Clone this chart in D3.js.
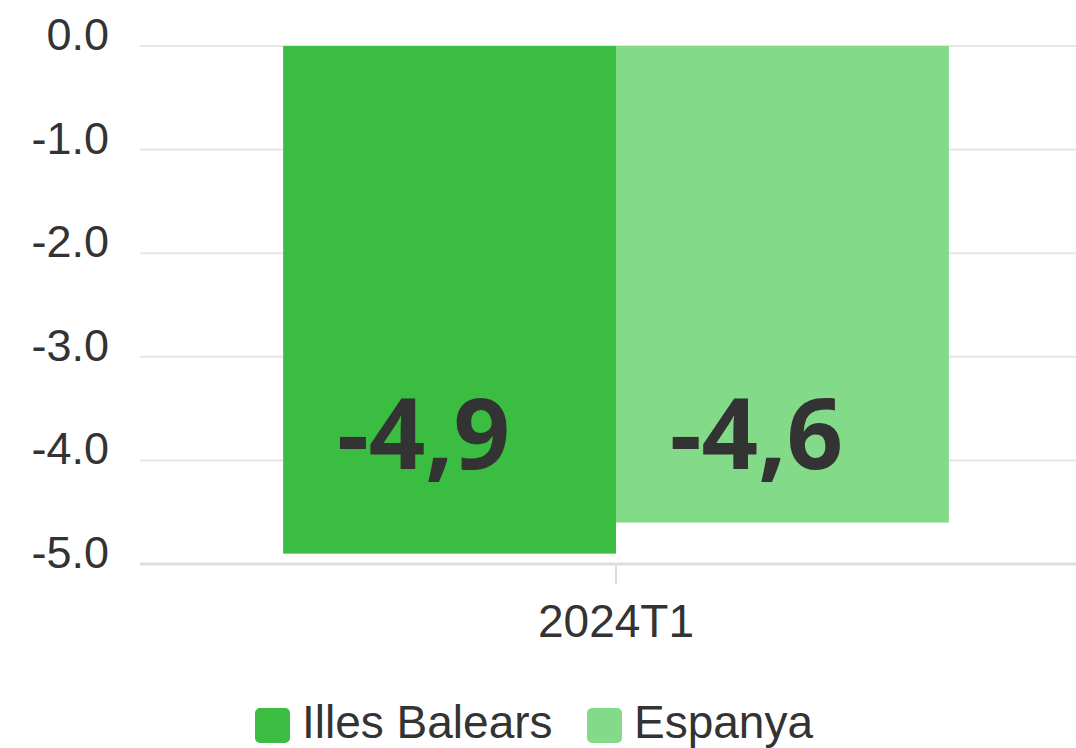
<!DOCTYPE html>
<html>
<head>
<meta charset="utf-8">
<style>
body { margin: 0; background: #fff; }
svg { display: block; }
</style>
</head>
<body>
<div id="chart"></div>
<script src="https://d3js.org/d3.v7.min.js"></script>
<script>
// data
var categories = ["2024T1"];
var seriesNames = ["Illes Balears", "Espanya"];
var seriesValues = [[-4.9], [-4.6]];
var seriesColors = ["#3bbd42", "#83da88"];
var yTicks = [0, -1, -2, -3, -4, -5];

var W = 1076, H = 748;
var svg = d3.select("#chart").append("svg")
    .attr("width", W)
    .attr("height", H);

var plotLeft = 140, plotRight = 1092, plotTop = 46, plotBottom = 564;

var y = d3.scaleLinear().domain([-5, 0]).range([plotBottom, plotTop]);
var x0 = d3.scaleBand().domain(categories).range([plotLeft, plotRight]);
var x1 = d3.scaleBand().domain(seriesNames).range([0, x0.bandwidth()]).paddingOuter(0.43);

// grid
svg.append("g").selectAll("line")
    .data(yTicks.filter(function (d) { return d !== -5; }))
    .enter().append("line")
    .attr("x1", plotLeft).attr("x2", W)
    .attr("y1", function (d) { return y(d); })
    .attr("y2", function (d) { return y(d); })
    .attr("stroke", "#e6e6e6")
    .attr("stroke-width", 2);

// y labels
svg.append("g").selectAll("text")
    .data(yTicks)
    .enter().append("text")
    .attr("x", 109)
    .attr("y", function (d) { return y(d) + 4; })
    .attr("text-anchor", "end")
    .style("font-family", "Liberation Sans, Arial, sans-serif")
    .style("font-size", "45px")
    .attr("fill", "#333")
    .text(function (d) { return d3.format(".1f")(d).replace("−", "-"); });

// bars
var groups = svg.append("g").selectAll("g")
    .data(categories)
    .enter().append("g")
    .attr("transform", function (d) { return "translate(" + x0(d) + ",0)"; });

seriesNames.forEach(function (name, si) {
    groups.append("rect")
        .attr("x", x1(name))
        .attr("width", x1.bandwidth())
        .attr("y", function (d, ci) { return y(Math.max(0, seriesValues[si][ci])); })
        .attr("height", function (d, ci) { return Math.abs(y(seriesValues[si][ci]) - y(0)); })
        .attr("fill", seriesColors[si]);
});

// x axis line and tick
svg.append("line")
    .attr("x1", plotLeft).attr("x2", W)
    .attr("y1", plotBottom).attr("y2", plotBottom)
    .attr("stroke", "#dedede")
    .attr("stroke-width", 3);

svg.selectAll(".xtick")
    .data(categories)
    .enter().append("line")
    .attr("class", "xtick")
    .attr("x1", function (d) { return x0(d) + x0.bandwidth() / 2; })
    .attr("x2", function (d) { return x0(d) + x0.bandwidth() / 2; })
    .attr("y1", plotBottom).attr("y2", plotBottom + 20)
    .attr("stroke", "#dedede")
    .attr("stroke-width", 2);

svg.selectAll(".xlabel")
    .data(categories)
    .enter().append("text")
    .attr("class", "xlabel")
    .attr("x", function (d) { return x0(d) + x0.bandwidth() / 2; })
    .attr("y", 637)
    .attr("text-anchor", "middle")
    .style("font-family", "Liberation Sans, Arial, sans-serif")
    .style("font-size", "46px")
    .attr("fill", "#333")
    .text(function (d) { return d; });

// value labels
seriesNames.forEach(function (name, si) {
    groups.append("text")
        .attr("x", x1(name) + x1.bandwidth() / 2 - 26)
        .attr("y", 469)
        .attr("text-anchor", "middle")
        .style("font-family", "Open Sans, sans-serif")
        .style("font-weight", "bold")
        .style("font-size", "99px")
        .attr("fill", "#333")
        .text(function (d, ci) { return d3.format(".1f")(seriesValues[si][ci]).replace("−", "-").replace(".", ","); });
});

// legend
var legendX = [255, 587];
var legend = svg.append("g").selectAll("g")
    .data(seriesNames)
    .enter().append("g")
    .attr("transform", function (d, i) { return "translate(" + legendX[i] + ",708)"; });

legend.append("rect")
    .attr("width", 35).attr("height", 35)
    .attr("rx", 5)
    .attr("fill", function (d, i) { return seriesColors[i]; });

legend.append("text")
    .attr("x", 47)
    .attr("y", 30)
    .style("font-family", "Liberation Sans, Arial, sans-serif")
    .style("font-size", "46px")
    .attr("fill", "#333")
    .text(function (d) { return d; });
</script>
</body>
</html>
